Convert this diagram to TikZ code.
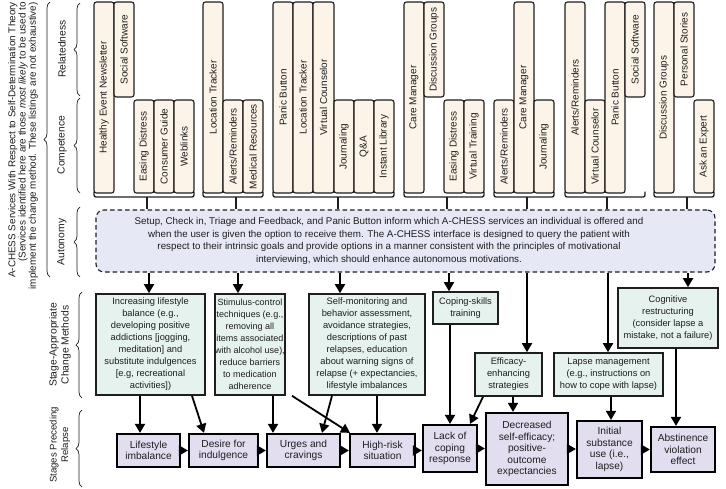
\documentclass[tikz,border=0pt]{standalone}
\usepackage{fontspec}
\setmainfont{Liberation Sans}
\usepackage{graphicx}
\usetikzlibrary{arrows.meta,decorations.pathreplacing,calc}
\definecolor{tanF}{HTML}{FCF4E8}
\definecolor{grnF}{HTML}{E6F2EE}
\definecolor{bluF}{HTML}{E7E8F6}
\definecolor{purF}{HTML}{E2DEF0}
\definecolor{ink}{HTML}{1E1E1E}
\newcommand\tanbx[6]{\node[tanbox, minimum width={#4-#2}, minimum height={#5-#3}] (#1) at ({(#2+#4)/2},{(#3+#5)/2}) {\rotatebox{90}{#6}};}
\newcommand\grpbr[4]{\draw[brk] (#2,191.5) -- (#2,197) -- (#3,197) -- (#3,191.5); \coordinate (#1) at (#4,197); \draw[brk] (#1) -- (#1 |- auto.north);}
\begin{document}
\begin{tikzpicture}[x=1pt,y=-1pt,
  tanbox/.style={draw=ink, line width=1.1pt, fill=tanF, rounded corners=2.5pt, inner sep=0pt, font=\fontsize{10}{12}\selectfont, text=ink},
  gbox/.style={draw=ink, line width=1.6pt, fill=grnF, inner sep=0pt, align=center, font=\fontsize{9.3}{12}\selectfont, text=ink},
  pbox/.style={draw=black, line width=2.2pt, fill=purF, inner sep=0pt, align=center, font=\fontsize{10.2}{11.5}\selectfont, text=ink},
  brk/.style={draw=ink, line width=1.3pt, rounded corners=2pt},
  arr/.style={draw=black, line width=1.8pt, -{Triangle[length=9pt,width=10pt]}},
  brc/.style={draw=ink, line width=0.7pt, decorate, decoration={brace, amplitude=6pt}},
  lbl/.style={font=\fontsize{10.3}{12}\selectfont, text=ink, align=center, inner sep=0pt}
]
\useasboundingbox (0,0) rectangle (726,488);

% ---------- left labels ----------
\node[lbl, rotate=90, anchor=east, align=right, font=\fontsize{9.9}{10.3}\selectfont] (sdt) at (23,2)
  {A-CHESS Services With Respect to Self-Determination Theory\\(Services identified here are those \textit{most likely} to be used to\\implement the change method. These listings are not exhaustive)};
\draw[brc] (50,277) -- (50,2);
\node[lbl, rotate=90] (rel) at (62,49) {Relatedness};
\draw[brc] (80,96) -- (80,3);
\node[lbl, rotate=90] (com) at (62,145) {Competence};
\draw[brc] (80,193) -- (80,98);
\node[lbl, rotate=90] (aut) at (62,242) {Autonomy};
\draw[brc] (80,277) -- (80,207);
\node[lbl, rotate=90] (scm) at (60,345) {Stage-Appropriate\\Change Methods};
\draw[brc] (82,398) -- (82,292);
\node[lbl, rotate=90, font=\fontsize{9.6}{11.5}\selectfont] (spr) at (60,445) {Stages Preceding\\Relapse};
\draw[brc] (82,487) -- (82,410);

% ---------- A-CHESS service boxes ----------
\tanbx{a1}{94}{2}{114}{193}{Healthy Event Newsletter}
\tanbx{a2}{114}{2}{134}{97}{Social Software}
\tanbx{a3}{134}{100}{154}{193}{Easing Distress}
\tanbx{a4}{154}{100}{174}{193}{Consumer Guide}
\tanbx{a5}{174}{100}{194}{193}{Weblinks}

\tanbx{b1}{203}{2}{223}{193}{Location Tracker}
\tanbx{b2}{223}{100}{243}{193}{Alerts/Reminders}
\tanbx{b3}{243}{100}{263}{193}{Medical Resources}

\tanbx{c1}{273}{2}{293}{193}{Panic Button}
\tanbx{c2}{293}{2}{313}{193}{Location Tracker}
\tanbx{c3}{313}{2}{334}{193}{Virtual Counselor}
\tanbx{c4}{334}{100}{354}{193}{Journaling}
\tanbx{c5}{354}{100}{374}{193}{Q\&A}
\tanbx{c6}{374}{100}{394}{193}{Instant Library}

\tanbx{d1}{404}{2}{424}{193}{Care Manager}
\tanbx{d2}{424}{2}{444}{97}{Discussion Groups}
\tanbx{d3}{444}{100}{464}{193}{Easing Distress}
\tanbx{d4}{464}{100}{484}{193}{Virtual Training}

\tanbx{e1}{494}{100}{514}{193}{Alerts/Reminders}
\tanbx{e2}{514}{2}{534}{193}{Care Manager}
\tanbx{e3}{534}{100}{554}{193}{Journaling}

\tanbx{f1}{565}{2}{585}{193}{Alerts/Reminders}
\tanbx{f2}{585}{100}{605}{193}{Virtual Counselor}
\tanbx{f3}{605}{2}{625}{193}{Panic Button}
\tanbx{f4}{625}{2}{645}{97}{Social Software}

\tanbx{g1}{654}{2}{674}{193}{Discussion Groups}
\tanbx{g2}{674}{2}{694}{97}{Personal Stories}
\tanbx{g3}{694}{100}{714}{193}{Ask an Expert}

% ---------- autonomy box ----------
\node[draw=ink, dashed, dash pattern=on 4.5pt off 3pt, line width=1.1pt, fill=bluF, rounded corners=8pt,
      minimum width=619, minimum height=62, inner sep=0pt] (auto) at (405.5,241) {};
\node[align=center, font=\fontsize{9.8}{12.6}\selectfont, text=ink, inner sep=0pt] (autotxt) at (389,241)
  {Setup, Check in, Triage and Feedback, and Panic Button inform which A-CHESS services an individual is offered and\\
   when the user is given the option to receive them. The A-CHESS interface is designed to query the patient with\\
   respect to their intrinsic goals and provide options in a manner consistent with the principles of motivational\\
   interviewing, which should enhance autonomous motivations.};

\grpbr{t1}{94}{194}{147}
\grpbr{t2}{203}{263}{236}
\grpbr{t3}{273}{394}{338}
\grpbr{t4}{404}{484}{447}
\grpbr{t5}{494}{554}{527}
\grpbr{t6}{565}{645}{607}
\grpbr{t7}{654}{714}{687}

% ---------- change methods ----------
\node[gbox, minimum width=109, minimum height=101] (m1) at (150.5,344.5)
  {Increasing lifestyle\\balance (e.g.,\\developing positive\\addictions [jogging,\\meditation] and\\substitute indulgences\\{[e.g, recreational}\\activities])};
\node[gbox, minimum width=70, minimum height=101, font=\fontsize{9}{12}\selectfont] (m2) at (250,344.5)
  {Stimulus-control\\techniques (e.g.,\\removing all\\items associated\\with alcohol use),\\reduce barriers\\to medication\\adherence};
\node[gbox, minimum width=116, minimum height=101] (m3) at (367,344.5)
  {Self-monitoring and\\behavior assessment,\\avoidance strategies,\\descriptions of past\\relapses, education\\about warning signs of\\relapse (+ expectancies,\\lifestyle imbalances};
\node[gbox, minimum width=65, minimum height=32] (m4) at (465.5,308) {Coping-skills\\training};
\node[gbox, minimum width=100, minimum height=60] (m5) at (668,318)
  {Cognitive\\restructuring\\(consider lapse a\\mistake, not a failure)};
\node[gbox, minimum width=67, minimum height=43] (m6) at (508.5,374.5) {Efficacy-\\enhancing\\strategies};
\node[gbox, minimum width=109, minimum height=43] (m7) at (608.5,374.5)
  {Lapse management\\(e.g., instructions on\\how to cope with lapse)};

% ---------- stages preceding relapse ----------
\node[pbox, minimum width=63, minimum height=33] (p1) at (148.5,450.5) {Lifestyle\\imbalance};
\node[pbox, minimum width=69, minimum height=33] (p2) at (223.5,450.5) {Desire for\\indulgence};
\node[pbox, minimum width=73, minimum height=33] (p3) at (303.5,450.5) {Urges and\\cravings};
\node[pbox, minimum width=65, minimum height=33] (p4) at (382.5,450.5) {High-risk\\situation};
\node[pbox, minimum width=54, minimum height=47] (p5) at (450,448.5) {Lack of\\coping\\response};
\node[pbox, minimum width=82, minimum height=72] (p6) at (527,449) {Decreased\\self-efficacy;\\positive-\\outcome\\expectancies};
\node[pbox, minimum width=65, minimum height=57] (p7) at (609.5,449.5) {Initial\\substance\\use (i.e.,\\lapse)};
\node[pbox, minimum width=64, minimum height=45] (p8) at (683,449.5) {Abstinence\\violation\\effect};

% ---------- arrows: autonomy -> methods ----------
\draw[arr] (149,0 |- auto.south) -- (149,0 |- m1.north);
\draw[arr] (238,0 |- auto.south) -- (238,0 |- m2.north);
\draw[arr] (340,0 |- auto.south) -- (340,0 |- m3.north);
\draw[arr] (449,0 |- auto.south) -- (449,0 |- m4.north);
\draw[arr] (527,0 |- auto.south) -- (527,0 |- m6.north);
\draw[arr] (608,0 |- auto.south) -- (608,0 |- m7.north);
\draw[arr] (688,0 |- auto.south) -- (688,0 |- m5.north);

% ---------- arrows: methods -> stages ----------
\draw[arr] (140,0 |- m1.south) -- (140,0 |- p1.north);
\draw[arr] (192,0 |- m1.south) -- (204,0 |- p2.north);
\draw[arr] (273,0 |- m2.south) -- (273,0 |- p3.north);
\draw[arr] (292,0 |- m2.south) -- ([xshift=1pt]p4.north west);
\draw[arr] (332,0 |- m3.south) -- (322,0 |- p3.north);
\draw[arr] (377,0 |- m3.south) -- (377,0 |- p4.north);
\draw[arr] (450,0 |- m4.south) -- (450,0 |- p5.north);
\draw[arr] (483,0 |- m6.south) -- (470,0 |- p5.north);
\draw[arr] (513,0 |- m6.south) -- (513,0 |- p6.north);
\draw[arr] (611,0 |- m7.south) -- (611,0 |- p7.north);
\draw[arr] (676,0 |- m5.south) -- (676,0 |- p8.north);

% ---------- arrows: stage chain ----------
\draw[arr] (p1.east) -- (p1.east -| p2.west);
\draw[arr] (p2.east) -- (p2.east -| p3.west);
\draw[arr] (p3.east) -- (p3.east -| p4.west);
\draw[arr] (p4.east) -- (p4.east -| p5.west);
\draw[arr] (p5.east) -- (p5.east -| p6.west);
\draw[arr] (p6.east) -- (p6.east -| p7.west);
\draw[arr] (p7.east) -- (p7.east -| p8.west);
\end{tikzpicture}
\end{document}
